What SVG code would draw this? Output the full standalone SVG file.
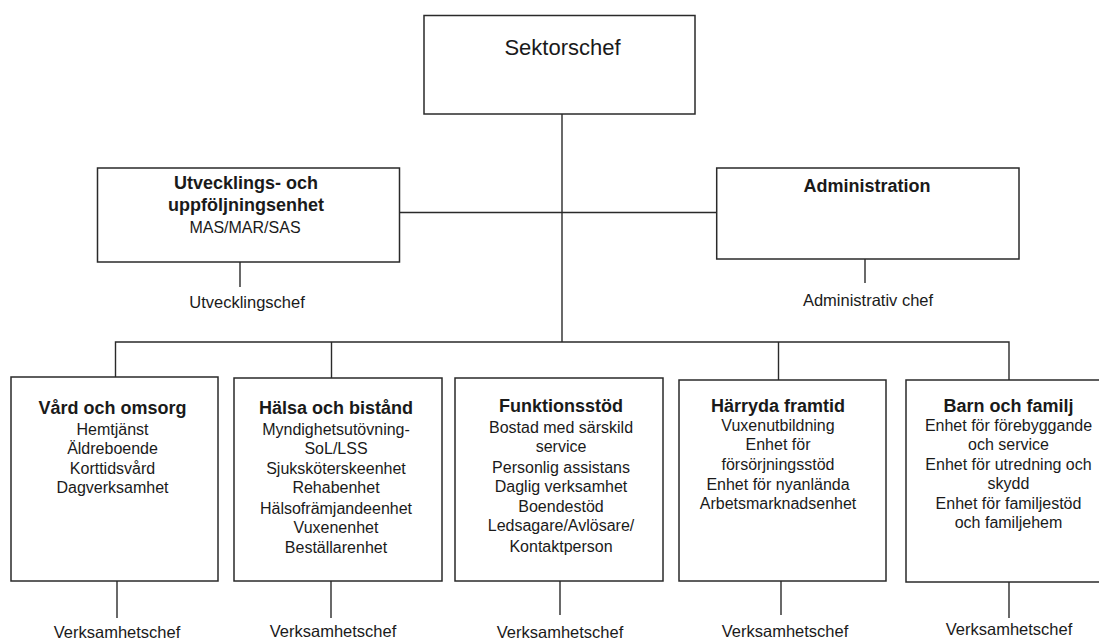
<svg xmlns="http://www.w3.org/2000/svg" width="1099" height="640" viewBox="0 0 1099 640">
<style>
.box{fill:#fff;stroke:#2a2a2a;stroke-width:1.5}
.ln{stroke:#2a2a2a;stroke-width:1.4;fill:none}
text{font-family:"Liberation Sans",Arial,sans-serif;fill:#1a1a1a;text-anchor:middle}
.t{font-size:18px;font-weight:bold}
.i{font-size:16px}
.l{font-size:16.5px}
.h{font-size:22px}
</style>
<rect width="1099" height="640" fill="#fff"/>
<g id="connectors">
<path class="ln" d="M562,114V342"/>
<path class="ln" d="M399.5,212.5H716.7"/>
<path class="ln" d="M240,262V287"/>
<path class="ln" d="M865,259V283"/>
<path class="ln" d="M115.5,377V342H1009V380"/>
<path class="ln" d="M331.5,342V378"/>
<path class="ln" d="M778.5,342V380"/>
<path class="ln" d="M117,581V618"/>
<path class="ln" d="M331,581V618"/>
<path class="ln" d="M560,581V615"/>
<path class="ln" d="M781,581V615"/>
<path class="ln" d="M1009,582V618"/>
</g>
<g id="sektorschef">
<rect class="box" x="424" y="15.5" width="271" height="98.5"/>
<text class="h" x="562.5" y="55">Sektorschef</text>
</g>
<g id="utveckling">
<rect class="box" x="97.5" y="168" width="302" height="94"/>
<text class="t" x="246" y="189">Utvecklings- och</text>
<text class="t" x="246" y="211">uppföljningsenhet</text>
<text class="i" x="245" y="233">MAS/MAR/SAS</text>
</g>
<g id="utvecklingschef"><text class="l" x="247" y="308">Utvecklingschef</text></g>
<g id="administration">
<rect class="box" x="716.7" y="168" width="302.3" height="91"/>
<text class="t" x="867" y="192">Administration</text>
</g>
<g id="administrativ-chef"><text class="l" x="868" y="306">Administrativ chef</text></g>
<g id="vard">
<rect class="box" x="11" y="377" width="207" height="204"/>
<text class="t" x="112.5" y="414">Vård och omsorg</text>
<text class="i" x="112.5" y="435">Hemtjänst</text>
<text class="i" x="112.5" y="454">Äldreboende</text>
<text class="i" x="112.5" y="474">Korttidsvård</text>
<text class="i" x="112.5" y="493">Dagverksamhet</text>
</g>
<g id="halsa">
<rect class="box" x="234" y="378" width="208" height="203"/>
<text class="t" x="336" y="414">Hälsa och bistånd</text>
<text class="i" x="336" y="435">Myndighetsutövning-</text>
<text class="i" x="336" y="454">SoL/LSS</text>
<text class="i" x="336" y="474">Sjuksköterskeenhet</text>
<text class="i" x="336" y="493">Rehabenhet</text>
<text class="i" x="336" y="514">Hälsofrämjandeenhet</text>
<text class="i" x="336" y="533">Vuxenenhet</text>
<text class="i" x="336" y="553">Beställarenhet</text>
</g>
<g id="funktionsstod">
<rect class="box" x="455" y="378" width="208" height="203"/>
<text class="t" x="561" y="412">Funktionsstöd</text>
<text class="i" x="561" y="433">Bostad med särskild</text>
<text class="i" x="561" y="452">service</text>
<text class="i" x="561" y="473">Personlig assistans</text>
<text class="i" x="561" y="492">Daglig verksamhet</text>
<text class="i" x="561" y="512">Boendestöd</text>
<text class="i" x="561" y="531">Ledsagare/Avlösare/</text>
<text class="i" x="561" y="552">Kontaktperson</text>
</g>
<g id="harryda">
<rect class="box" x="679" y="380" width="207" height="201"/>
<text class="t" x="778" y="412">Härryda framtid</text>
<text class="i" x="778" y="431">Vuxenutbildning</text>
<text class="i" x="778" y="450">Enhet för</text>
<text class="i" x="778" y="470">försörjningsstöd</text>
<text class="i" x="778" y="490">Enhet för nyanlända</text>
<text class="i" x="778" y="509">Arbetsmarknadsenhet</text>
</g>
<g id="barn">
<rect class="box" x="906" y="380" width="205" height="202"/>
<text class="t" x="1008.5" y="412">Barn och familj</text>
<text class="i" x="1008.5" y="431">Enhet för förebyggande</text>
<text class="i" x="1008.5" y="450">och service</text>
<text class="i" x="1008.5" y="470">Enhet för utredning och</text>
<text class="i" x="1008.5" y="489">skydd</text>
<text class="i" x="1008.5" y="509">Enhet för familjestöd</text>
<text class="i" x="1008.5" y="528">och familjehem</text>
</g>
<g id="chef-1"><text class="l" x="117" y="638">Verksamhetschef</text></g>
<g id="chef-2"><text class="l" x="333" y="637">Verksamhetschef</text></g>
<g id="chef-3"><text class="l" x="560" y="638">Verksamhetschef</text></g>
<g id="chef-4"><text class="l" x="785" y="637">Verksamhetschef</text></g>
<g id="chef-5"><text class="l" x="1009" y="635">Verksamhetschef</text></g>
</svg>
